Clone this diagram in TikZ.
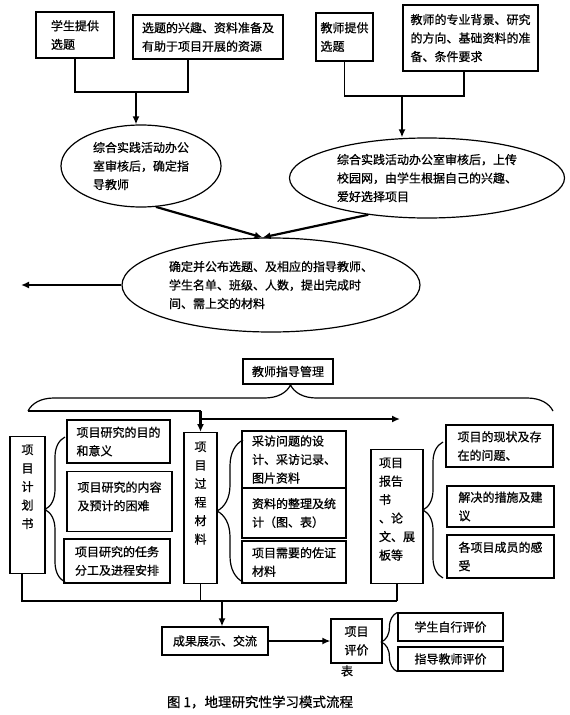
\documentclass[tikz,border=0pt]{standalone}
\usepackage{fontspec}
\setmainfont{Noto Sans CJK SC}[FakeBold=0.8]
\usetikzlibrary{arrows.meta,shapes.geometric,decorations.pathreplacing}

\begin{document}
\begin{tikzpicture}[x=1pt, y=-1pt,
  every node/.style={font=\fontsize{12pt}{18.5pt}\selectfont, inner sep=0pt},
  box/.style={draw, line width=1.2pt, align=left},
  oval/.style={draw, ellipse, line width=1.2pt, align=left},
  link/.style={line width=1.3pt},
  arr/.style={line width=2.2pt, -{Latex[length=8pt,width=7pt]}},
  brc/.style={line width=1.2pt, decorate, decoration={brace, amplitude=#1}}]
\useasboundingbox (0,0) rectangle (570,715);

\node[box, minimum width=78pt, minimum height=46pt] (s1) at (75,35) {学生提供\\选题};
\node[box, minimum width=150pt, minimum height=44pt] (s2) at (208,37) {选题的兴趣、资料准备及\\有助于项目开展的资源};
\node[box, minimum width=57pt, minimum height=48pt] (t1) at (344.5,37) {教师提供\\选题};
\node[box, minimum width=135pt, minimum height=66pt] (t2) at (470.5,38) {教师的专业背景、研究\\的方向、基础资料的准\\备、条件要求};

\node[oval, minimum width=160pt, minimum height=82pt] (e1) at (141,166) {综合实践活动办公\\室审核后，确定指\\导教师};
\node[oval, minimum width=275pt, minimum height=80pt] (e2) at (427,178) {综合实践活动办公室审核后，上传\\校园网，由学生根据自己的兴趣、\\爱好选择项目};
\node[oval, minimum width=298pt, minimum height=94pt] (e3) at (271,285) {确定并公布选题、及相应的指导教师、\\学生名单、班级、人数，提出完成时\\间、需上交的材料};

\coordinate (sbar) at (188,92);
\coordinate (sdrop) at (136,92);
\coordinate (tbar) at (464,96);
\coordinate (tdrop) at (402,96);
\coordinate (back) at (21,285);
\draw[link] (s1.south) |- (sbar) -- (sbar |- s2.south);
\draw[link] (t1.south) |- (tbar) -- (tbar |- t2.south);
\draw[arr] (sdrop) -- (sdrop |- e1.north);
\draw[arr] (tdrop) -- (tdrop |- e2.north);
\draw[arr] (e1.-70) -- (e3.100);
\draw[arr] (e2.212) -- (e3.100);
\draw[arr] (e3.west) -- (back);

\node[box, minimum width=90pt, minimum height=25pt] (mg) at (288,371.5) {教师指导管理};
\coordinate (bL) at (28,411);
\coordinate (bR) at (553,411);
\draw[brc=26pt] (bL) -- (bR);

\node[box, anchor=north, minimum width=35pt, inner ysep=8pt] (plan) at (27.5,436) {\parbox[c][121pt][t]{12pt}{\centering 项\\目\\计\\划\\书}};
\node[box, minimum width=103pt, minimum height=43pt] (c1) at (118.5,441.5) {项目研究的目的\\和意义};
\node[box, anchor=north, minimum width=105pt, inner ysep=10pt] (c2) at (119.5,471) {\parbox[c][40pt][t]{84pt}{项目研究的内容\\及预计的困难}};
\node[box, minimum width=106pt, minimum height=44pt] (c3) at (117,561) {项目研究的任务\\分工及进程安排};

\node[box, anchor=north, minimum width=33pt, inner ysep=9pt] (proc) at (200.5,432) {\parbox[c][133pt][t]{12pt}{\centering 项\\目\\过\\程\\材\\料}};
\node[box, minimum width=104pt, minimum height=57pt] (m1) at (294,459.5) {采访问题的设\\计、采访记录、\\图片资料};
\node[box, minimum width=104pt, minimum height=50pt] (m2) at (294,513) {资料的整理及统\\计（图、表）};
\node[box, minimum width=104pt, minimum height=42pt] (m3) at (294,562) {项目需要的佐证\\材料};

\node[box, anchor=north, minimum width=52pt, inner ysep=8pt] (rep) at (397,449) {\parbox[c][118pt][t]{36pt}{项目\\报告\\书\\、论\\文、展\\板等}};
\node[box, minimum width=107pt, minimum height=42pt] (r1) at (499.5,446) {项目的现状及存\\在的问题、};
\node[box, minimum width=107pt, minimum height=41pt] (r2) at (500.5,506.5) {解决的措施及建\\议};
\node[box, minimum width=107pt, minimum height=43pt] (r3) at (500.5,556.5) {各项目成员的感\\受};

\coordinate (pj) at (200.5,411);
\coordinate (flowR) at (400,419);
\draw[line width=1.8pt] (bL) -- (pj);
\draw[arr] (pj) -- (proc.north);
\draw[arr] (pj |- flowR) -- (flowR);

\coordinate (pbT) at (65,437);
\coordinate (pbB) at (65,582);
\coordinate (mbT) at (243,440);
\coordinate (mbB) at (243,582);
\coordinate (rbT) at (443,442);
\coordinate (rbB) at (443,578);
\draw[brc=20pt] (pbB) -- (pbT);
\draw[brc=26pt] (mbB) -- (mbT);
\draw[brc=20pt] (rbB) -- (rbT);

\node[box, minimum width=106pt, minimum height=28pt] (show) at (215,641) {成果展示、交流};
\node[box, minimum width=51pt, minimum height=44pt] (eval) at (356.5,641) {项目\\评价};
\node (evtail) at (347,671) {表};
\node[box, minimum width=105pt, minimum height=28pt] (q1) at (450.5,627) {学生自行评价};
\node[box, minimum width=105pt, minimum height=24pt] (q2) at (450.5,659) {指导教师评价};
\draw[brc=16pt] (q2.south west) -- (q1.north west);

\coordinate (cL) at (22,601);
\coordinate (cR) at (397,601);
\coordinate (cdrop) at (222,601);
\draw[link] (plan.south -| cL) -- (cL) -- (cR);
\draw[link] (proc.south) -- (proc.south |- cL);
\draw[link] (rep.south) -- (cR);
\draw[arr] (cdrop) -- (cdrop |- show.north);
\draw[arr] (show.east) -- (eval.west);

\node[font=\fontsize{13.5pt}{16pt}\selectfont] (cap) at (260,702) {图 1，地理研究性学习模式流程};
\end{tikzpicture}
\end{document}
